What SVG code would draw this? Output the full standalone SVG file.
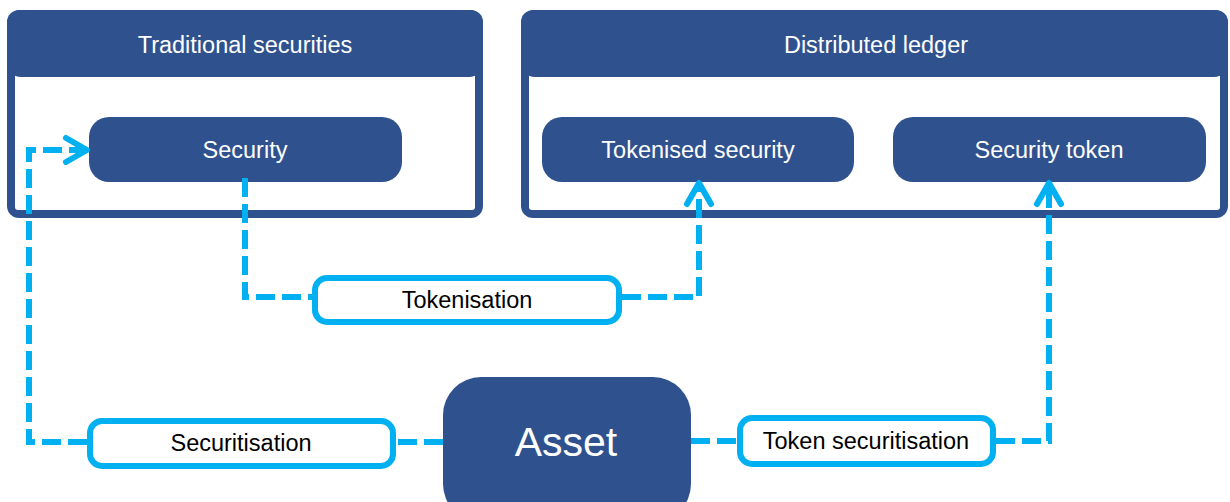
<svg xmlns="http://www.w3.org/2000/svg" width="1230" height="502" viewBox="0 0 1230 502">
<style>
.frame{fill:#2F528F}
.inner{fill:#FFFFFF}
.node{fill:#2F528F}
.lbl{fill:#FFFFFF;stroke:#00B0F0;stroke-width:6}
.t{font-family:"Liberation Sans",Arial,sans-serif;text-anchor:middle}
.w{fill:#FFFFFF;font-size:23.5px}
.b{fill:#000000;font-size:23.5px}
.big{fill:#FFFFFF;font-size:41px}
.con{fill:none;stroke:#00B0F0;stroke-width:6;stroke-dasharray:19 7}
</style>
<defs>
<marker id="arr" markerUnits="userSpaceOnUse" markerWidth="40" markerHeight="40" viewBox="-30 -20 40 40" refX="0" refY="0" orient="auto">
<path d="M-21,-12 L0,0 L-21,12" fill="none" stroke="#00B0F0" stroke-width="6" stroke-linecap="round" stroke-linejoin="round" stroke-dasharray="none"/>
</marker>
</defs>
<rect width="1230" height="502" fill="#FFFFFF"/>
<g id="traditional-securities">
<rect class="frame" x="7" y="10" width="476" height="208" rx="12"/>
<rect class="inner" x="15" y="64" width="460" height="146" rx="3"/>
<rect class="frame" x="7" y="10" width="476" height="67" rx="14"/>
<text class="t w" x="245" y="53">Traditional securities</text>
</g>
<g id="distributed-ledger">
<rect class="frame" x="521" y="10" width="707" height="208" rx="12"/>
<rect class="inner" x="529" y="64" width="691" height="146" rx="3"/>
<rect class="frame" x="521" y="10" width="707" height="67" rx="14"/>
<text class="t w" x="876" y="53">Distributed ledger</text>
</g>
<g id="security">
<rect class="node" x="89" y="117" width="313" height="65" rx="20"/>
<text class="t w" x="245" y="158">Security</text>
</g>
<g id="tokenised-security">
<rect class="node" x="542" y="117" width="312" height="65" rx="20"/>
<text class="t w" x="698" y="158">Tokenised security</text>
</g>
<g id="security-token">
<rect class="node" x="893" y="117" width="313" height="65" rx="20"/>
<text class="t w" x="1049" y="158">Security token</text>
</g>
<g id="connectors">
<path class="con" d="M245,178 L245,297 L312,297"/>
<path class="con" d="M622,297 L699,297 L699,183" marker-end="url(#arr)"/>
<path class="con" d="M443,442 L396,442"/>
<path class="con" d="M87,442 L29,442 L29,150 L87,150" marker-end="url(#arr)"/>
<path class="con" d="M691,441 L737,441"/>
<path class="con" d="M996,441 L1049,441 L1049,183" marker-end="url(#arr)"/>
</g>
<g id="tokenisation">
<rect class="lbl" x="315" y="278" width="304" height="44" rx="12"/>
<text class="t b" x="467" y="308">Tokenisation</text>
</g>
<g id="securitisation">
<rect class="lbl" x="90" y="421" width="303" height="45" rx="12"/>
<text class="t b" x="241" y="451">Securitisation</text>
</g>
<g id="token-securitisation">
<rect class="lbl" x="740" y="418" width="253" height="46" rx="12"/>
<text class="t b" x="866" y="449">Token securitisation</text>
</g>
<g id="asset">
<rect class="node" x="443" y="377" width="248" height="145" rx="38"/>
<text class="t big" x="566" y="456">Asset</text>
</g>
</svg>
